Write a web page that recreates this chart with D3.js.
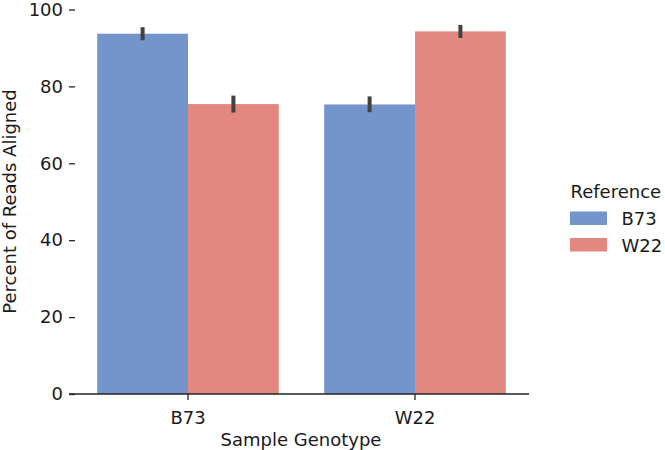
<!DOCTYPE html>
<html>
<head>
<meta charset="utf-8">
<script src="https://cdn.jsdelivr.net/npm/d3@7"></script>
<style>
  html, body { margin: 0; padding: 0; background: #ffffff; }
  svg { display: block; font-family: "DejaVu Sans", sans-serif; }
</style>
</head>
<body>
<svg id="chart" width="665" height="450"></svg>
<script>
// ---- data ----
const categories = ["B73", "W22"];           // Sample Genotype
const references = ["B73", "W22"];          // Reference (hue)
const valuesB73Ref = [93.7, 75.3];          // mean, per sample genotype
const valuesW22Ref = [75.4, 94.3];
const errLowB73Ref = [92.0, 73.3];
const errHighB73Ref = [95.4, 77.4];
const errLowW22Ref = [73.2, 92.6];
const errHighW22Ref = [77.6, 96.0];
const yTicks = [0, 20, 40, 60, 80, 100];
const colors = ["#7494cc", "#e2887e"];

const rows = [];
categories.forEach((c, i) => {
  rows.push({cat: c, ref: references[0], v: valuesB73Ref[i], lo: errLowB73Ref[i], hi: errHighB73Ref[i]});
  rows.push({cat: c, ref: references[1], v: valuesW22Ref[i], lo: errLowW22Ref[i], hi: errHighW22Ref[i]});
});

const svg = d3.select("#chart");
const y = d3.scaleLinear().domain([0, 100]).range([394, 9.5]);
const x = d3.scaleBand().domain(categories).range([74.5, 528.5]).paddingInner(0).paddingOuter(0);
const inner = d3.scaleBand().domain(references).range([0, x.bandwidth() * 0.8]);
const offset = x.bandwidth() * 0.1;
const color = d3.scaleOrdinal().domain(references).range(colors);

// bars
svg.append("g").selectAll("rect").data(rows).join("rect")
  .attr("x", d => x(d.cat) + offset + inner(d.ref))
  .attr("width", inner.bandwidth())
  .attr("y", d => y(d.v))
  .attr("height", d => y(0) - y(d.v))
  .attr("fill", d => color(d.ref));

// error bars
svg.append("g").selectAll("line").data(rows).join("line")
  .attr("x1", d => x(d.cat) + offset + inner(d.ref) + inner.bandwidth() / 2)
  .attr("x2", d => x(d.cat) + offset + inner(d.ref) + inner.bandwidth() / 2)
  .attr("y1", d => y(d.lo))
  .attr("y2", d => y(d.hi))
  .attr("stroke", "#424242")
  .attr("stroke-width", 4);

// y axis (ticks only, no spine)
const yAxis = svg.append("g").attr("transform", "translate(75,0)")
  .call(d3.axisLeft(y).tickValues(yTicks).tickSize(6).tickPadding(6));
yAxis.select(".domain").remove();
yAxis.selectAll(".tick line").attr("stroke", "#222").attr("stroke-width", 1.3);
yAxis.selectAll(".tick text").attr("font-size", 18).attr("fill", "#1a1a1a")
  .attr("font-family", "DejaVu Sans, sans-serif");

// x axis
const xAxis = svg.append("g").attr("transform", "translate(0,394)")
  .call(d3.axisBottom(x).tickSize(6).tickPadding(11));
xAxis.select(".domain").remove();
xAxis.selectAll(".tick line").attr("stroke", "#222").attr("stroke-width", 1.3);
xAxis.selectAll(".tick text").attr("font-size", 18).attr("fill", "#1a1a1a")
  .attr("font-family", "DejaVu Sans, sans-serif");
svg.append("line").attr("x1", 69).attr("x2", 529).attr("y1", 394).attr("y2", 394)
  .attr("stroke", "#222").attr("stroke-width", 1.5);

// axis labels
svg.append("text").attr("x", 301).attr("y", 446).attr("text-anchor", "middle")
  .attr("font-size", 18).attr("fill", "#1a1a1a").text("Sample Genotype");
svg.append("text").attr("transform", "translate(16,201.5) rotate(-90)")
  .attr("text-anchor", "middle").attr("font-size", 18).attr("fill", "#1a1a1a")
  .text("Percent of Reads Aligned");

// legend
const lg = svg.append("g");
lg.append("text").attr("x", 570.5).attr("y", 198).attr("font-size", 18).attr("fill", "#1a1a1a").text("Reference");
references.forEach((r, i) => {
  lg.append("rect").attr("x", 570).attr("y", 211.5 + i * 26.5).attr("width", 37).attr("height", 13.5)
    .attr("fill", color(r));
  lg.append("text").attr("x", 621.5).attr("y", 225 + i * 26.5).attr("font-size", 18).attr("fill", "#1a1a1a").text(r);
});
</script>
</body>
</html>
